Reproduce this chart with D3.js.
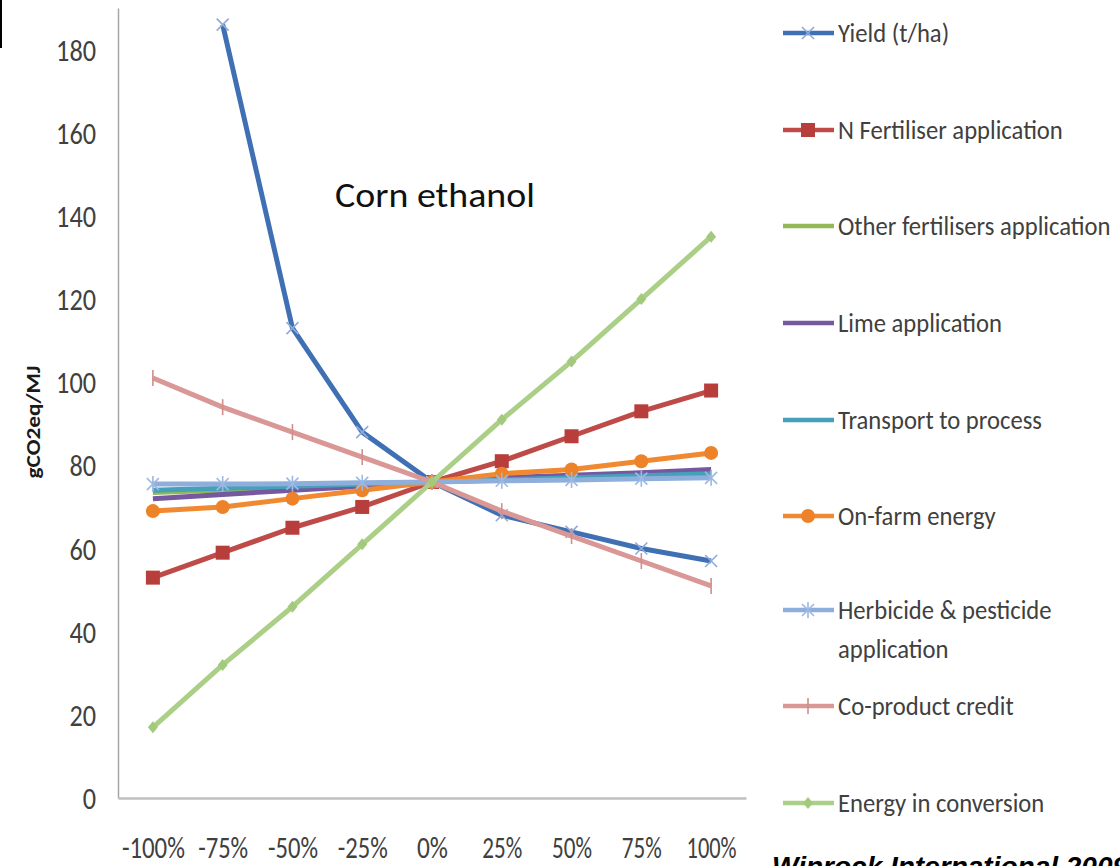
<!DOCTYPE html>
<html>
<head>
<meta charset="utf-8">
<script src="https://cdn.jsdelivr.net/npm/d3@7"></script>
<style>
  html, body { margin: 0; padding: 0; background: #fff; }
  svg { display: block; }
</style>
</head>
<body>
<svg id="chart" width="1120" height="866"></svg>
<script>
// Change in input parameter (x axis)
const categories = ["-100%", "-75%", "-50%", "-25%", "0%", "25%", "50%", "75%", "100%"];

// Emissions in gCO2eq/MJ for each sensitivity run
const yieldVals      = [null, 186, 113, 88, 76, 68, 64, 60, 57];
const nFertVals      = [53, 59, 65, 70, 76, 81, 87, 93, 98];
const otherFertVals  = [73.5, 74, 74.6, 75.3, 76, 76.6, 77.2, 77.8, 78.4];
const limeVals       = [72, 73, 74, 75, 76, 77, 77.6, 78.2, 79];
const transportVals  = [74, 74.5, 75, 75.5, 76, 76.5, 77, 77.5, 78];
const onFarmVals     = [69, 70, 72, 74, 76, 78, 79, 81, 83];
const herbicideVals  = [75.5, 75.5, 75.6, 75.8, 76, 76.3, 76.5, 76.8, 77];
const coProductVals  = [101, 94, 88, 82, 76, 69, 63, 57, 51];
const energyConvVals = [17, 32, 46, 61, 76, 91, 105, 120, 135];

const yTicks = [0, 20, 40, 60, 80, 100, 120, 140, 160, 180];

const seriesNames = [
  "Yield (t/ha)", "N Fertiliser application", "Other fertilisers application",
  "Lime application", "Transport to process", "On-farm energy",
  "Herbicide & pesticide application", "Co-product credit", "Energy in conversion"
];

const series = [
  { name: seriesNames[0], values: yieldVals,      color: "#4070B4", mcolor: "#8FAADA", marker: "x" },
  { name: seriesNames[1], values: nFertVals,      color: "#BE4B48", mcolor: "#B83E3B", marker: "square" },
  { name: seriesNames[2], values: otherFertVals,  color: "#93B956", mcolor: null, marker: null },
  { name: seriesNames[3], values: limeVals,       color: "#7558A0", mcolor: null, marker: null },
  { name: seriesNames[4], values: transportVals,  color: "#45A0BA", mcolor: null, marker: null },
  { name: seriesNames[5], values: onFarmVals,     color: "#F0892F", mcolor: "#EE8228", marker: "circle" },
  { name: seriesNames[6], values: herbicideVals,  color: "#8EAEDB", mcolor: "#9DB8E2", marker: "star" },
  { name: seriesNames[7], values: coProductVals,  color: "#D99795", mcolor: "#D08E8C", marker: "plus" },
  { name: seriesNames[8], values: energyConvVals, color: "#ABCF86", mcolor: "#A3C97C", marker: "diamond" }
];

const svg = d3.select("#chart");
const font = "Carlito, Calibri, 'Open Sans', sans-serif";

const x = d3.scalePoint().domain(categories).range([118, 746]).padding(0.5);
const y = d3.scaleLinear().domain([0, 190]).range([798, 8]);

// frame mark at the top-left edge
svg.append("line").attr("x1", 1).attr("x2", 1).attr("y1", 0).attr("y2", 48)
  .attr("stroke", "#000").attr("stroke-width", 2);

// y axis (tall, narrow numerals)
const yAxis = svg.append("g").attr("transform", "translate(118,0)")
  .call(d3.axisLeft(y).tickValues(yTicks).tickSize(0).tickPadding(22));
yAxis.select(".domain").attr("stroke", "#A6A6A6").attr("stroke-width", 1.5);
yAxis.selectAll("text")
  .style("font-family", font).style("font-size", "31px").attr("fill", "#404040")
  .attr("dy", "0.34em")
  .attr("lengthAdjust", "spacingAndGlyphs")
  .attr("textLength", d => String(d).length * 13.3);

// x axis
const xAxis = svg.append("g").attr("transform", "translate(0,798)")
  .call(d3.axisBottom(x).tickSize(0).tickPadding(38));
xAxis.select(".domain").attr("stroke", "#BFBFBF").attr("stroke-width", 2.5);
xAxis.selectAll("text").style("font-family", font).style("font-size", "31px").attr("fill", "#404040")
  .attr("lengthAdjust", "spacingAndGlyphs")
  .attr("textLength", d => d.length >= 5 ? 63 : d.length === 4 ? 50 : d.length === 3 ? 40 : 31);

// y axis title
svg.append("text")
  .attr("transform", "translate(40,422) rotate(-90)")
  .attr("text-anchor", "middle")
  .attr("font-family", font).attr("font-weight", "bold").attr("font-size", 21)
  .attr("textLength", 113).attr("lengthAdjust", "spacingAndGlyphs")
  .attr("fill", "#1a1a1a")
  .text("gCO2eq/MJ");

// chart title
svg.append("text").attr("x", 335).attr("y", 207)
  .attr("font-family", font).attr("font-size", 34).attr("fill", "#111")
  .attr("textLength", 200).attr("lengthAdjust", "spacingAndGlyphs")
  .text("Corn ethanol");

function drawMarker(g, type, color, cx, cy) {
  if (type === "square") {
    g.append("rect").attr("x", cx - 7).attr("y", cy - 7).attr("width", 14).attr("height", 14).attr("fill", color);
  } else if (type === "circle") {
    g.append("circle").attr("cx", cx).attr("cy", cy).attr("r", 7).attr("fill", color);
  } else if (type === "diamond") {
    g.append("path").attr("d", `M${cx},${cy - 6}L${cx + 5},${cy}L${cx},${cy + 6}L${cx - 5},${cy}Z`).attr("fill", color);
  } else if (type === "x") {
    g.append("path").attr("d", `M${cx - 6},${cy - 6}L${cx + 6},${cy + 6}M${cx - 6},${cy + 6}L${cx + 6},${cy - 6}`)
      .attr("stroke", color).attr("stroke-width", 1.6).attr("fill", "none");
  } else if (type === "star") {
    g.append("path").attr("d", `M${cx - 6},${cy - 6}L${cx + 6},${cy + 6}M${cx - 6},${cy + 6}L${cx + 6},${cy - 6}M${cx},${cy - 8}L${cx},${cy + 8}`)
      .attr("stroke", color).attr("stroke-width", 1.6).attr("fill", "none");
  } else if (type === "plus") {
    g.append("path").attr("d", `M${cx},${cy - 8}L${cx},${cy + 8}`)
      .attr("stroke", color).attr("stroke-width", 1.6).attr("fill", "none");
  }
}

const line = d3.line()
  .defined(d => d.v !== null)
  .x(d => x(d.c))
  .y(d => y(d.v));

const plot = svg.append("g");
series.forEach(s => {
  const pts = categories.map((c, i) => ({ c, v: s.values[i] }));
  plot.append("path").datum(pts)
    .attr("d", line)
    .attr("fill", "none")
    .attr("stroke", s.color)
    .attr("stroke-width", 5)
    .attr("stroke-linejoin", "round");
  if (s.marker) {
    const mg = plot.append("g");
    pts.filter(p => p.v !== null).forEach(p => drawMarker(mg, s.marker, s.mcolor, x(p.c), y(p.v)));
  }
});

// legend
const legendY = [33, 130, 226, 323, 420, 516, 610, 706, 803];
const legend = svg.append("g");
series.forEach((s, i) => {
  const ly = legendY[i];
  legend.append("line").attr("x1", 783).attr("x2", 834).attr("y1", ly).attr("y2", ly)
    .attr("stroke", s.color).attr("stroke-width", 4.5);
  if (s.marker) drawMarker(legend, s.marker, s.mcolor, 808, ly);
  // slightly condensed lettering
  const t = legend.append("text")
    .attr("transform", `translate(838,${ly + 9}) scale(0.93,1)`)
    .attr("font-family", font).attr("font-size", 26.5).attr("fill", "#404040");
  if (s.name === "Herbicide & pesticide application") {
    t.append("tspan").attr("x", 0).text("Herbicide & pesticide");
    t.append("tspan").attr("x", 0).attr("dy", 39).text("application");
  } else {
    t.text(s.name);
  }
});

// source note
svg.append("text").attr("x", 772).attr("y", 876)
  .attr("font-family", "'Liberation Sans', Arial, sans-serif")
  .attr("font-weight", "bold").attr("font-style", "italic").attr("font-size", 28)
  .attr("fill", "#000")
  .text("Winrock International 2009");
</script>
</body>
</html>
